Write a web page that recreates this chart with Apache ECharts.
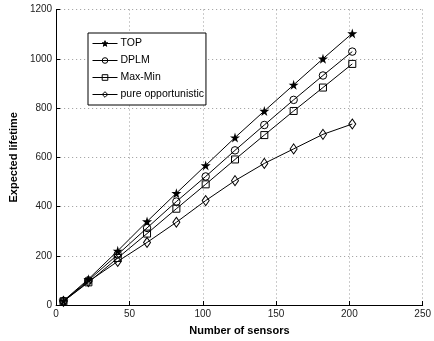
<!DOCTYPE html>
<html>
<head>
<meta charset="utf-8">
<script src="https://cdn.jsdelivr.net/npm/echarts@6/dist/echarts.min.js"></script>
<style>
  html, body { margin: 0; padding: 0; background: #fff; }
  #chart { width: 434px; height: 341px; }
</style>
</head>
<body>
<div id="chart"></div>
<script>
// ── Data ──
const sensors = [5, 22, 42, 62, 82, 102, 122, 142, 162, 182, 202];
const topLife = [17, 105, 220, 339, 454, 567, 680, 788, 894, 1000, 1103];
const dplmLife = [16, 100, 205, 313, 420, 522, 628, 731, 833, 932, 1029];
const maxMinLife = [15, 92, 191, 290, 391, 490, 591, 690, 788, 883, 979];
const pureLife = [15, 95, 177, 254, 336, 424, 505, 575, 634, 693, 735];

const FONT = '"Liberation Sans", Arial, sans-serif';
const STAR = 'path://M50,0 L61,35 L98,35 L68,57 L79,91 L50,70 L21,91 L32,57 L2,35 L39,35 Z';

function pairs(ys) {
  return sensors.map((x, i) => [x, ys[i]]);
}

function lineSeries(name, ys, symbol, size, filled) {
  return {
    name,
    type: 'line',
    data: pairs(ys),
    symbol,
    symbolSize: size,
    showAllSymbol: true,
    lineStyle: { color: '#000', width: 1 },
    itemStyle: {
      color: filled ? '#000' : 'rgba(0,0,0,0)',
      borderColor: '#000',
      borderWidth: filled ? 0 : 1,
    },
    emphasis: { disabled: true },
    animation: false,
  };
}

const axisText = { color: '#222', fontFamily: FONT, fontSize: 10 };
const gridLine = { show: true, lineStyle: { color: '#999', type: [1, 3], width: 1 } };

const chart = echarts.init(document.getElementById('chart'), null, { renderer: 'canvas' });
chart.setOption({
  backgroundColor: '#fff',
  animation: false,
  grid: { left: 43.5, right: 4, top: 9.5, bottom: 26.5, containLabel: false },
  legend: {
    left: 88,
    top: 33,
    orient: 'vertical',
    backgroundColor: '#fff',
    borderColor: '#000',
    borderWidth: 1,
    borderRadius: 0,
    padding: [5, 2, 5, 4],
    itemGap: 6,
    itemWidth: 25,
    itemHeight: 7,
    lineStyle: { width: 1 },
    itemStyle: { borderWidth: 1 },
    textStyle: { color: '#000', fontFamily: FONT, fontSize: 10.5, padding: [0, 0, 0, -2] },
    data: ['TOP', 'DPLM', 'Max-Min', 'pure opportunistic'],
  },
  xAxis: {
    type: 'value',
    min: 0,
    max: 250,
    interval: 50,
    name: 'Number of sensors',
    nameLocation: 'middle',
    nameGap: 20,
    nameTextStyle: { color: '#000', fontFamily: FONT, fontSize: 11, fontWeight: 'bold' },
    axisLine: { show: true, lineStyle: { color: '#000', width: 1 } },
    axisTick: { show: true, inside: true, length: 4, lineStyle: { color: '#000' } },
    axisLabel: { ...axisText, margin: 4 },
    splitLine: gridLine,
  },
  yAxis: {
    type: 'value',
    min: 0,
    max: 1200,
    interval: 200,
    name: 'Expected lifetime',
    nameLocation: 'middle',
    nameGap: 33,
    nameTextStyle: { color: '#000', fontFamily: FONT, fontSize: 11, fontWeight: 'bold' },
    axisLine: { show: true, lineStyle: { color: '#000', width: 1 } },
    axisTick: { show: true, inside: true, length: 4, lineStyle: { color: '#000' } },
    axisLabel: { ...axisText, margin: 4, formatter: (v) => String(v) },
    splitLine: gridLine,
  },
  series: [
    lineSeries('TOP', topLife, STAR, 10, true),
    lineSeries('DPLM', dplmLife, 'circle', 7.5, false),
    lineSeries('Max-Min', maxMinLife, 'rect', 7, false),
    lineSeries('pure opportunistic', pureLife, 'diamond', [7, 10], false),
  ],
});
</script>
</body>
</html>
